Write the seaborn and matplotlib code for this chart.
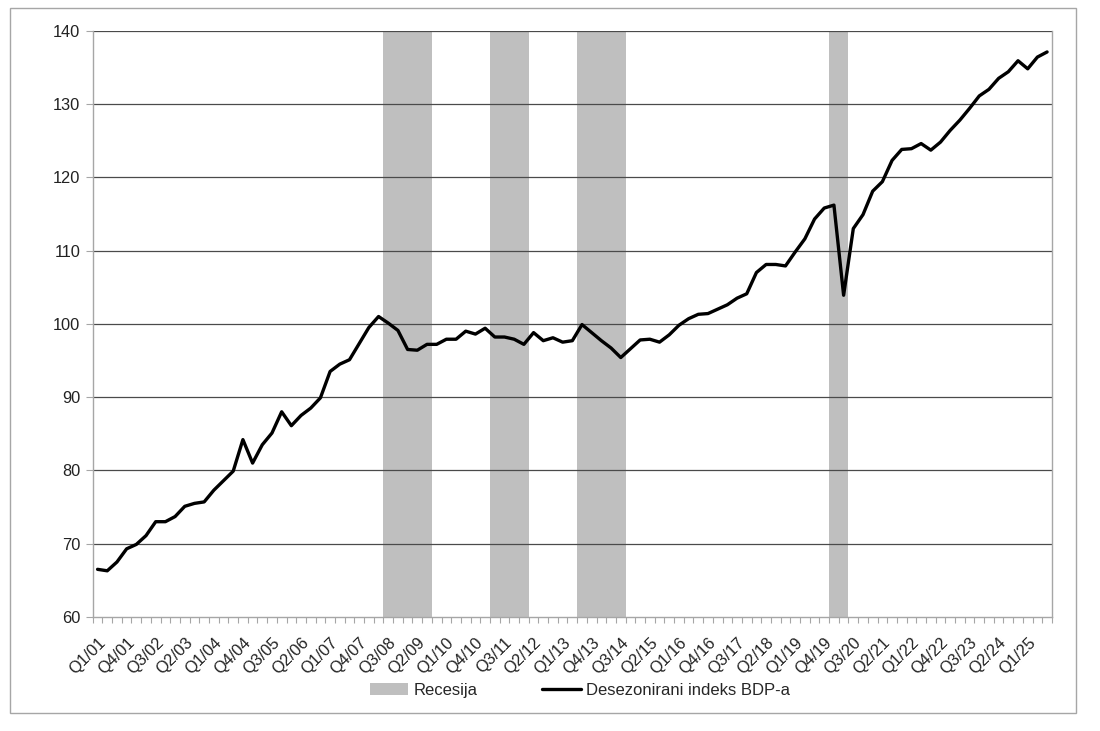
import numpy as np
import pandas as pd
import matplotlib
matplotlib.use("Agg")
import matplotlib.pyplot as plt
from matplotlib.patches import Patch, Rectangle
from matplotlib.lines import Line2D
import seaborn as sns

# Quarterly index values, Q1/01 .. Q3/25
gdp_index = [
    66.5, 66.3, 67.5, 69.3, 69.9, 71.1, 73.0, 73.0, 73.7, 75.1,
    75.5, 75.7, 77.3, 78.6, 79.9, 84.2, 81.0, 83.5, 85.1, 88.0,
    86.1, 87.5, 88.5, 89.9, 93.5, 94.5, 95.1, 97.3, 99.5, 101.0,
    100.1, 99.1, 96.5, 96.4, 97.2, 97.2, 97.9, 97.9, 99.0, 98.6,
    99.4, 98.2, 98.2, 97.9, 97.2, 98.8, 97.7, 98.1, 97.5, 97.7,
    99.9, 98.8, 97.7, 96.7, 95.4, 96.6, 97.8, 97.9, 97.5, 98.5,
    99.8, 100.7, 101.3, 101.4, 102.0, 102.6, 103.5, 104.1, 107.0, 108.1,
    108.1, 107.9, 109.8, 111.6, 114.3, 115.8, 116.2, 103.9, 113.0, 114.9,
    118.1, 119.4, 122.3, 123.8, 123.9, 124.6, 123.7, 124.8, 126.4, 127.8,
    129.4, 131.1, 132.0, 133.5, 134.4, 135.9, 134.8, 136.4, 137.1,
]

# Recession quarters (first, last) as category labels
recessions = [("Q3/08", "Q3/09"), ("Q2/11", "Q1/12"), ("Q3/13", "Q3/14"), ("Q1/20", "Q2/20")]

quarters = [f"Q{q}/{y:02d}" for y in range(1, 26) for q in range(1, 5)][:len(gdp_index)]

df = pd.DataFrame({"idx": np.arange(len(quarters)), "quarter": quarters, "value": gdp_index})
flag = np.zeros(len(quarters))
for a, b in recessions:
    flag[quarters.index(a):quarters.index(b) + 1] = 1
df["recession"] = flag * 140

sns.set_theme(style="white")
plt.rcParams["font.family"] = ["Liberation Sans", "DejaVu Sans"]

fig = plt.figure(figsize=(11, 7.31), dpi=100)
ax = fig.add_axes([0.0843, 0.156, 0.872, 0.802])

# recession bands
ax.bar(df["idx"], df["recession"], width=1.0, color="#bfbfbf", linewidth=0, zorder=1)
sns.lineplot(data=df, x="idx", y="value", color="black", linewidth=2.4, ax=ax, zorder=3)

ax.set_ylim(60, 140)
ax.set_xlim(-0.5, len(quarters) - 0.5)
ax.set_yticks(range(60, 141, 10))
for v in range(70, 141, 10):
    ax.axhline(v, color="#4a4a4a", linewidth=0.9, zorder=2)

ax.set_xticks(np.arange(0, len(quarters), 3))
ax.set_xticklabels(quarters[::3], rotation=45, ha="right", rotation_mode="anchor")
ax.set_xticks(np.arange(-0.5, len(quarters), 1), minor=True)
ax.tick_params(axis="x", which="major", length=0, pad=13, labelsize=11.8, labelcolor="#222222")
ax.tick_params(axis="x", which="minor", length=4, width=0.8, color="#a6a6a6", direction="out", bottom=True)
ax.tick_params(axis="y", length=5, width=0.8, color="#a6a6a6", direction="out", left=True,
               labelsize=11.8, labelcolor="#222222", pad=4)
ax.set_xlabel("")
ax.set_ylabel("")

for s in ["left", "bottom", "right"]:
    ax.spines[s].set_color("#a6a6a6")
    ax.spines[s].set_linewidth(1.0)
ax.spines["top"].set_visible(False)

handles = [Patch(facecolor="#bfbfbf", edgecolor="none"),
           Line2D([0], [0], color="black", linewidth=2.4)]
fig.legend(handles, ["Recesija", "Desezonirani indeks BDP-a"], loc="center",
           bbox_to_anchor=(0.527, 0.056), ncol=2, frameon=False, fontsize=12,
           handlelength=2.3, handletextpad=0.3, columnspacing=3.9)

# outer chart border
fig.patches.append(Rectangle((10 / 1100, 1 - 713 / 731), 1066 / 1100, 705 / 731,
                             transform=fig.transFigure, fill=False,
                             edgecolor="#a6a6a6", linewidth=1.0))

fig.savefig("out.png", dpi=100)
